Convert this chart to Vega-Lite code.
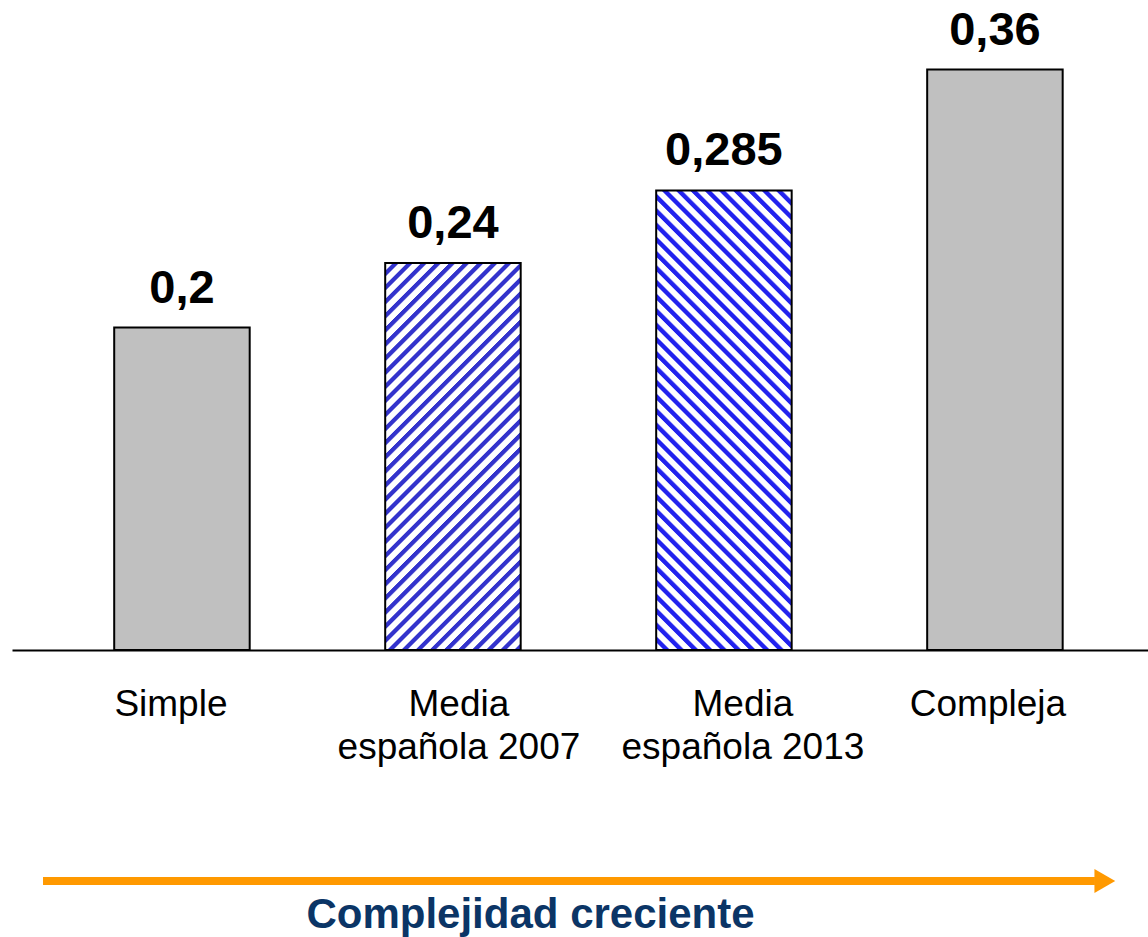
{
  "$schema": "https://vega.github.io/schema/vega-lite/v6.json",
  "width": 1136,
  "height": 645,
  "autosize": "none",
  "padding": {"left": 12, "top": 5, "right": 0, "bottom": 287},
  "background": "white",
  "config": {
    "view": {"stroke": null},
    "font": "Liberation Sans",
    "locale": {"number": {"decimal": ",", "thousands": ".", "grouping": [3], "currency": ["", " €"]}}
  },
  "layer": [
    {
      "data": {"values": [
        {"cat": "Simple", "value": 0.2},
        {"cat": "Media española 2007", "value": 0.24},
        {"cat": "Media española 2013", "value": 0.285},
        {"cat": "Compleja", "value": 0.36}
      ]},
      "encoding": {
        "x": {"field": "cat", "type": "nominal", "sort": ["Simple", "Media española 2007", "Media española 2013", "Compleja"],
          "scale": {"paddingInner": 0.5, "paddingOuter": 0.346, "align": 0.545},
          "axis": {"title": "Complejidad creciente", "labelAngle": 0,
            "labelExpr": "datum.label == 'Media española 2007' ? ['Media', 'española 2007'] : datum.label == 'Media española 2013' ? ['Media', 'española 2013'] : datum.label",
            "labelFont": "Liberation Sans", "labelFontSize": 37, "labelColor": "black", "labelLineHeight": 43, "labelLimit": 0,
            "labelPadding": 36, "labelOverlap": false, "labelFlush": false, "labelBound": false,
            "labelOffset": {"condition": [
              {"test": "datum.value == 'Simple'", "value": -11},
              {"test": "datum.value == 'Media española 2007'", "value": 6},
              {"test": "datum.value == 'Media española 2013'", "value": 19}
            ], "value": -7},
            "ticks": false, "tickSize": 0, "domainColor": "black", "domainWidth": 2, "grid": false,
            "titleFont": "Liberation Sans", "titleFontSize": 42, "titleFontWeight": "bold", "titleColor": "#0B3566",
            "titleAlign": "center", "titleBaseline": "alphabetic", "titleX": 518, "titleY": 277}},
        "y": {"field": "value", "type": "quantitative", "scale": {"domain": [0, 0.4], "nice": false}, "axis": null}
      },
      "layer": [
        {
          "transform": [{"filter": "datum.cat == 'Simple' || datum.cat == 'Compleja'"}],
          "mark": {"type": "bar", "fill": "#C0C0C0", "stroke": "black", "strokeWidth": 2}
        },
        {
          "transform": [{"filter": "datum.cat == 'Media española 2007'"}],
          "mark": {"type": "bar", "stroke": "black", "strokeWidth": 2,
            "fill": {"gradient": "linear", "x1": 0, "y1": 0, "x2": 0.421, "y2": 1.203, "stops": [
              {"offset": 0, "color": "#ffffff"},
              {"offset": 0.001, "color": "#ffffff"}, {"offset": 0.014, "color": "#ffffff"}, {"offset": 0.016, "color": "#3333cc"}, {"offset": 0.025, "color": "#3333cc"},
              {"offset": 0.028, "color": "#ffffff"}, {"offset": 0.041, "color": "#ffffff"}, {"offset": 0.043, "color": "#3333cc"}, {"offset": 0.052, "color": "#3333cc"},
              {"offset": 0.055, "color": "#ffffff"}, {"offset": 0.068, "color": "#ffffff"}, {"offset": 0.070, "color": "#3333cc"}, {"offset": 0.079, "color": "#3333cc"},
              {"offset": 0.082, "color": "#ffffff"}, {"offset": 0.095, "color": "#ffffff"}, {"offset": 0.097, "color": "#3333cc"}, {"offset": 0.106, "color": "#3333cc"},
              {"offset": 0.109, "color": "#ffffff"}, {"offset": 0.122, "color": "#ffffff"}, {"offset": 0.124, "color": "#3333cc"}, {"offset": 0.133, "color": "#3333cc"},
              {"offset": 0.136, "color": "#ffffff"}, {"offset": 0.149, "color": "#ffffff"}, {"offset": 0.151, "color": "#3333cc"}, {"offset": 0.160, "color": "#3333cc"},
              {"offset": 0.163, "color": "#ffffff"}, {"offset": 0.176, "color": "#ffffff"}, {"offset": 0.178, "color": "#3333cc"}, {"offset": 0.187, "color": "#3333cc"},
              {"offset": 0.190, "color": "#ffffff"}, {"offset": 0.203, "color": "#ffffff"}, {"offset": 0.205, "color": "#3333cc"}, {"offset": 0.214, "color": "#3333cc"},
              {"offset": 0.217, "color": "#ffffff"}, {"offset": 0.230, "color": "#ffffff"}, {"offset": 0.232, "color": "#3333cc"}, {"offset": 0.241, "color": "#3333cc"},
              {"offset": 0.244, "color": "#ffffff"}, {"offset": 0.257, "color": "#ffffff"}, {"offset": 0.259, "color": "#3333cc"}, {"offset": 0.268, "color": "#3333cc"},
              {"offset": 0.271, "color": "#ffffff"}, {"offset": 0.284, "color": "#ffffff"}, {"offset": 0.286, "color": "#3333cc"}, {"offset": 0.295, "color": "#3333cc"},
              {"offset": 0.298, "color": "#ffffff"}, {"offset": 0.311, "color": "#ffffff"}, {"offset": 0.313, "color": "#3333cc"}, {"offset": 0.322, "color": "#3333cc"},
              {"offset": 0.325, "color": "#ffffff"}, {"offset": 0.338, "color": "#ffffff"}, {"offset": 0.340, "color": "#3333cc"}, {"offset": 0.349, "color": "#3333cc"},
              {"offset": 0.352, "color": "#ffffff"}, {"offset": 0.365, "color": "#ffffff"}, {"offset": 0.367, "color": "#3333cc"}, {"offset": 0.376, "color": "#3333cc"},
              {"offset": 0.379, "color": "#ffffff"}, {"offset": 0.392, "color": "#ffffff"}, {"offset": 0.394, "color": "#3333cc"}, {"offset": 0.403, "color": "#3333cc"},
              {"offset": 0.406, "color": "#ffffff"}, {"offset": 0.419, "color": "#ffffff"}, {"offset": 0.421, "color": "#3333cc"}, {"offset": 0.430, "color": "#3333cc"},
              {"offset": 0.433, "color": "#ffffff"}, {"offset": 0.446, "color": "#ffffff"}, {"offset": 0.448, "color": "#3333cc"}, {"offset": 0.457, "color": "#3333cc"},
              {"offset": 0.460, "color": "#ffffff"}, {"offset": 0.473, "color": "#ffffff"}, {"offset": 0.475, "color": "#3333cc"}, {"offset": 0.484, "color": "#3333cc"},
              {"offset": 0.487, "color": "#ffffff"}, {"offset": 0.500, "color": "#ffffff"}, {"offset": 0.502, "color": "#3333cc"}, {"offset": 0.511, "color": "#3333cc"},
              {"offset": 0.514, "color": "#ffffff"}, {"offset": 0.527, "color": "#ffffff"}, {"offset": 0.529, "color": "#3333cc"}, {"offset": 0.538, "color": "#3333cc"},
              {"offset": 0.541, "color": "#ffffff"}, {"offset": 0.554, "color": "#ffffff"}, {"offset": 0.556, "color": "#3333cc"}, {"offset": 0.565, "color": "#3333cc"},
              {"offset": 0.568, "color": "#ffffff"}, {"offset": 0.581, "color": "#ffffff"}, {"offset": 0.583, "color": "#3333cc"}, {"offset": 0.592, "color": "#3333cc"},
              {"offset": 0.595, "color": "#ffffff"}, {"offset": 0.608, "color": "#ffffff"}, {"offset": 0.610, "color": "#3333cc"}, {"offset": 0.619, "color": "#3333cc"},
              {"offset": 0.622, "color": "#ffffff"}, {"offset": 0.635, "color": "#ffffff"}, {"offset": 0.637, "color": "#3333cc"}, {"offset": 0.646, "color": "#3333cc"},
              {"offset": 0.649, "color": "#ffffff"}, {"offset": 0.662, "color": "#ffffff"}, {"offset": 0.664, "color": "#3333cc"}, {"offset": 0.673, "color": "#3333cc"},
              {"offset": 0.676, "color": "#ffffff"}, {"offset": 0.689, "color": "#ffffff"}, {"offset": 0.691, "color": "#3333cc"}, {"offset": 0.700, "color": "#3333cc"},
              {"offset": 0.703, "color": "#ffffff"}, {"offset": 0.716, "color": "#ffffff"}, {"offset": 0.718, "color": "#3333cc"}, {"offset": 0.727, "color": "#3333cc"},
              {"offset": 0.730, "color": "#ffffff"}, {"offset": 0.743, "color": "#ffffff"}, {"offset": 0.745, "color": "#3333cc"}, {"offset": 0.754, "color": "#3333cc"},
              {"offset": 0.757, "color": "#ffffff"}, {"offset": 0.770, "color": "#ffffff"}, {"offset": 0.772, "color": "#3333cc"}, {"offset": 0.781, "color": "#3333cc"},
              {"offset": 0.784, "color": "#ffffff"}, {"offset": 0.797, "color": "#ffffff"}, {"offset": 0.799, "color": "#3333cc"}, {"offset": 0.808, "color": "#3333cc"},
              {"offset": 0.811, "color": "#ffffff"}, {"offset": 0.824, "color": "#ffffff"}, {"offset": 0.826, "color": "#3333cc"}, {"offset": 0.835, "color": "#3333cc"},
              {"offset": 0.838, "color": "#ffffff"}, {"offset": 0.851, "color": "#ffffff"}, {"offset": 0.853, "color": "#3333cc"}, {"offset": 0.862, "color": "#3333cc"},
              {"offset": 0.865, "color": "#ffffff"}, {"offset": 0.878, "color": "#ffffff"}, {"offset": 0.880, "color": "#3333cc"}, {"offset": 0.889, "color": "#3333cc"},
              {"offset": 0.892, "color": "#ffffff"}, {"offset": 0.905, "color": "#ffffff"}, {"offset": 0.907, "color": "#3333cc"}, {"offset": 0.916, "color": "#3333cc"},
              {"offset": 0.919, "color": "#ffffff"}, {"offset": 0.932, "color": "#ffffff"}, {"offset": 0.934, "color": "#3333cc"}, {"offset": 0.943, "color": "#3333cc"},
              {"offset": 0.946, "color": "#ffffff"}, {"offset": 0.959, "color": "#ffffff"}, {"offset": 0.961, "color": "#3333cc"}, {"offset": 0.970, "color": "#3333cc"},
              {"offset": 0.973, "color": "#ffffff"}, {"offset": 0.986, "color": "#ffffff"}, {"offset": 0.988, "color": "#3333cc"}, {"offset": 0.997, "color": "#3333cc"},
              {"offset": 1, "color": "#ffffff"}
            ]}}
        },
        {
          "transform": [{"filter": "datum.cat == 'Media española 2013'"}],
          "mark": {"type": "bar", "stroke": "black", "strokeWidth": 2,
            "fill": {"gradient": "linear", "x1": 0, "y1": 1, "x2": 0.3512, "y2": -0.1913, "stops": [
              {"offset": 0, "color": "#ffffff"},
              {"offset": 0.001, "color": "#ffffff"}, {"offset": 0.012, "color": "#ffffff"}, {"offset": 0.014, "color": "#2222ee"}, {"offset": 0.022, "color": "#2222ee"},
              {"offset": 0.025, "color": "#ffffff"}, {"offset": 0.036, "color": "#ffffff"}, {"offset": 0.038, "color": "#2222ee"}, {"offset": 0.046, "color": "#2222ee"},
              {"offset": 0.049, "color": "#ffffff"}, {"offset": 0.060, "color": "#ffffff"}, {"offset": 0.062, "color": "#2222ee"}, {"offset": 0.070, "color": "#2222ee"},
              {"offset": 0.073, "color": "#ffffff"}, {"offset": 0.084, "color": "#ffffff"}, {"offset": 0.086, "color": "#2222ee"}, {"offset": 0.094, "color": "#2222ee"},
              {"offset": 0.097, "color": "#ffffff"}, {"offset": 0.108, "color": "#ffffff"}, {"offset": 0.110, "color": "#2222ee"}, {"offset": 0.118, "color": "#2222ee"},
              {"offset": 0.121, "color": "#ffffff"}, {"offset": 0.132, "color": "#ffffff"}, {"offset": 0.134, "color": "#2222ee"}, {"offset": 0.142, "color": "#2222ee"},
              {"offset": 0.145, "color": "#ffffff"}, {"offset": 0.156, "color": "#ffffff"}, {"offset": 0.158, "color": "#2222ee"}, {"offset": 0.166, "color": "#2222ee"},
              {"offset": 0.169, "color": "#ffffff"}, {"offset": 0.180, "color": "#ffffff"}, {"offset": 0.182, "color": "#2222ee"}, {"offset": 0.190, "color": "#2222ee"},
              {"offset": 0.193, "color": "#ffffff"}, {"offset": 0.204, "color": "#ffffff"}, {"offset": 0.206, "color": "#2222ee"}, {"offset": 0.214, "color": "#2222ee"},
              {"offset": 0.217, "color": "#ffffff"}, {"offset": 0.228, "color": "#ffffff"}, {"offset": 0.230, "color": "#2222ee"}, {"offset": 0.238, "color": "#2222ee"},
              {"offset": 0.241, "color": "#ffffff"}, {"offset": 0.252, "color": "#ffffff"}, {"offset": 0.254, "color": "#2222ee"}, {"offset": 0.262, "color": "#2222ee"},
              {"offset": 0.265, "color": "#ffffff"}, {"offset": 0.276, "color": "#ffffff"}, {"offset": 0.278, "color": "#2222ee"}, {"offset": 0.286, "color": "#2222ee"},
              {"offset": 0.289, "color": "#ffffff"}, {"offset": 0.300, "color": "#ffffff"}, {"offset": 0.302, "color": "#2222ee"}, {"offset": 0.310, "color": "#2222ee"},
              {"offset": 0.313, "color": "#ffffff"}, {"offset": 0.324, "color": "#ffffff"}, {"offset": 0.326, "color": "#2222ee"}, {"offset": 0.334, "color": "#2222ee"},
              {"offset": 0.337, "color": "#ffffff"}, {"offset": 0.348, "color": "#ffffff"}, {"offset": 0.350, "color": "#2222ee"}, {"offset": 0.358, "color": "#2222ee"},
              {"offset": 0.361, "color": "#ffffff"}, {"offset": 0.372, "color": "#ffffff"}, {"offset": 0.374, "color": "#2222ee"}, {"offset": 0.382, "color": "#2222ee"},
              {"offset": 0.385, "color": "#ffffff"}, {"offset": 0.396, "color": "#ffffff"}, {"offset": 0.398, "color": "#2222ee"}, {"offset": 0.406, "color": "#2222ee"},
              {"offset": 0.409, "color": "#ffffff"}, {"offset": 0.420, "color": "#ffffff"}, {"offset": 0.422, "color": "#2222ee"}, {"offset": 0.430, "color": "#2222ee"},
              {"offset": 0.433, "color": "#ffffff"}, {"offset": 0.444, "color": "#ffffff"}, {"offset": 0.446, "color": "#2222ee"}, {"offset": 0.454, "color": "#2222ee"},
              {"offset": 0.457, "color": "#ffffff"}, {"offset": 0.468, "color": "#ffffff"}, {"offset": 0.470, "color": "#2222ee"}, {"offset": 0.478, "color": "#2222ee"},
              {"offset": 0.481, "color": "#ffffff"}, {"offset": 0.492, "color": "#ffffff"}, {"offset": 0.494, "color": "#2222ee"}, {"offset": 0.502, "color": "#2222ee"},
              {"offset": 0.505, "color": "#ffffff"}, {"offset": 0.516, "color": "#ffffff"}, {"offset": 0.518, "color": "#2222ee"}, {"offset": 0.526, "color": "#2222ee"},
              {"offset": 0.529, "color": "#ffffff"}, {"offset": 0.540, "color": "#ffffff"}, {"offset": 0.542, "color": "#2222ee"}, {"offset": 0.550, "color": "#2222ee"},
              {"offset": 0.553, "color": "#ffffff"}, {"offset": 0.564, "color": "#ffffff"}, {"offset": 0.566, "color": "#2222ee"}, {"offset": 0.574, "color": "#2222ee"},
              {"offset": 0.577, "color": "#ffffff"}, {"offset": 0.588, "color": "#ffffff"}, {"offset": 0.590, "color": "#2222ee"}, {"offset": 0.598, "color": "#2222ee"},
              {"offset": 0.601, "color": "#ffffff"}, {"offset": 0.612, "color": "#ffffff"}, {"offset": 0.614, "color": "#2222ee"}, {"offset": 0.622, "color": "#2222ee"},
              {"offset": 0.625, "color": "#ffffff"}, {"offset": 0.636, "color": "#ffffff"}, {"offset": 0.638, "color": "#2222ee"}, {"offset": 0.646, "color": "#2222ee"},
              {"offset": 0.649, "color": "#ffffff"}, {"offset": 0.660, "color": "#ffffff"}, {"offset": 0.662, "color": "#2222ee"}, {"offset": 0.670, "color": "#2222ee"},
              {"offset": 0.673, "color": "#ffffff"}, {"offset": 0.684, "color": "#ffffff"}, {"offset": 0.686, "color": "#2222ee"}, {"offset": 0.694, "color": "#2222ee"},
              {"offset": 0.697, "color": "#ffffff"}, {"offset": 0.708, "color": "#ffffff"}, {"offset": 0.710, "color": "#2222ee"}, {"offset": 0.718, "color": "#2222ee"},
              {"offset": 0.721, "color": "#ffffff"}, {"offset": 0.732, "color": "#ffffff"}, {"offset": 0.734, "color": "#2222ee"}, {"offset": 0.742, "color": "#2222ee"},
              {"offset": 0.745, "color": "#ffffff"}, {"offset": 0.756, "color": "#ffffff"}, {"offset": 0.758, "color": "#2222ee"}, {"offset": 0.766, "color": "#2222ee"},
              {"offset": 0.769, "color": "#ffffff"}, {"offset": 0.780, "color": "#ffffff"}, {"offset": 0.782, "color": "#2222ee"}, {"offset": 0.790, "color": "#2222ee"},
              {"offset": 0.793, "color": "#ffffff"}, {"offset": 0.804, "color": "#ffffff"}, {"offset": 0.806, "color": "#2222ee"}, {"offset": 0.814, "color": "#2222ee"},
              {"offset": 0.817, "color": "#ffffff"}, {"offset": 0.828, "color": "#ffffff"}, {"offset": 0.830, "color": "#2222ee"}, {"offset": 0.838, "color": "#2222ee"},
              {"offset": 0.841, "color": "#ffffff"}, {"offset": 0.852, "color": "#ffffff"}, {"offset": 0.854, "color": "#2222ee"}, {"offset": 0.862, "color": "#2222ee"},
              {"offset": 0.865, "color": "#ffffff"}, {"offset": 0.876, "color": "#ffffff"}, {"offset": 0.878, "color": "#2222ee"}, {"offset": 0.886, "color": "#2222ee"},
              {"offset": 0.889, "color": "#ffffff"}, {"offset": 0.900, "color": "#ffffff"}, {"offset": 0.902, "color": "#2222ee"}, {"offset": 0.910, "color": "#2222ee"},
              {"offset": 0.913, "color": "#ffffff"}, {"offset": 0.924, "color": "#ffffff"}, {"offset": 0.926, "color": "#2222ee"}, {"offset": 0.934, "color": "#2222ee"},
              {"offset": 0.937, "color": "#ffffff"}, {"offset": 0.948, "color": "#ffffff"}, {"offset": 0.950, "color": "#2222ee"}, {"offset": 0.958, "color": "#2222ee"},
              {"offset": 0.961, "color": "#ffffff"}, {"offset": 0.972, "color": "#ffffff"}, {"offset": 0.974, "color": "#2222ee"}, {"offset": 0.982, "color": "#2222ee"},
              {"offset": 0.985, "color": "#ffffff"}, {"offset": 0.996, "color": "#ffffff"}, {"offset": 0.998, "color": "#2222ee"}, {"offset": 1, "color": "#2222ee"}
            ]}}
        },
        {
          "mark": {"type": "text", "font": "Liberation Sans", "fontSize": 47, "fontWeight": "bold", "color": "black",
            "align": "center", "baseline": "alphabetic", "dy": -25},
          "encoding": {"text": {"field": "value", "type": "quantitative", "format": ".3~g"}}
        }
      ]
    },
    {
      "data": {"values": [{"from": 0.0273, "to": 0.9533, "head": 0.962, "level": -0.1433}]},
      "layer": [
        {
          "mark": {"type": "rule", "color": "#FF9900", "strokeWidth": 8},
          "encoding": {
            "x": {"field": "from", "type": "quantitative", "scale": {"domain": [0, 1], "nice": false}, "axis": null},
            "x2": {"field": "to"},
            "y": {"field": "level", "type": "quantitative", "scale": {"domain": [0, 0.4], "nice": false}, "axis": null}
          }
        },
        {
          "mark": {"type": "point", "shape": "triangle-right", "filled": true, "color": "#FF9900", "opacity": 1, "size": 576, "strokeWidth": 0},
          "encoding": {
            "x": {"field": "head", "type": "quantitative", "scale": {"domain": [0, 1], "nice": false}, "axis": null},
            "y": {"field": "level", "type": "quantitative", "scale": {"domain": [0, 0.4], "nice": false}, "axis": null}
          }
        }
      ]
    }
  ],
  "resolve": {"scale": {"x": "independent"}}
}
